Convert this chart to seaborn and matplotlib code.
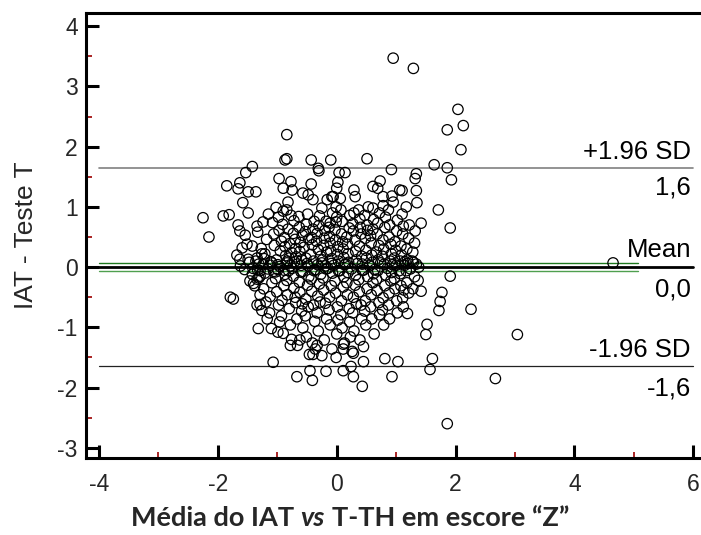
import numpy as np
import pandas as pd
import matplotlib
matplotlib.use("Agg")
import matplotlib.pyplot as plt
from matplotlib.ticker import FixedLocator
import seaborn as sns

# ---------------- data (mean of the two z-scores, difference) ----------------
outliers = [(0.95, 3.47), (1.29, 3.30), (2.04, 2.62), (2.13, 2.35), (1.86, 2.28), (2.09, 1.95),
            (1.64, 1.70), (1.86, 1.65), (1.93, 1.45), (1.71, 0.95), (1.91, 0.65), (4.65, 0.07),
            (2.26, -0.70), (3.04, -1.12), (2.67, -1.85), (1.86, -2.60), (-0.84, 2.20),
            (-2.25, 0.82), (-2.15, 0.50), (-1.91, 0.85), (-1.81, 0.87)]

upper_sparse = [(-0.87, 1.78), (-0.84, 1.80), (-0.43, 1.78), (-0.10, 1.78), (-0.30, 1.60), (0.51, 1.80),
                (0.92, 1.62), (0.04, 1.57), (0.14, 1.57), (-1.42, 1.67), (-1.53, 1.57), (-1.85, 1.35),
                (-1.63, 1.40), (-1.66, 1.30), (-1.49, 1.25), (-1.36, 1.25), (-1.58, 1.07), (-1.49, 0.90),
                (1.34, 1.55), (1.32, 1.47), (1.34, 1.27), (1.35, 1.07), (1.42, 0.73), (1.10, 1.27),
                (-0.97, 1.47), (-0.77, 1.42), (-0.90, 1.31), (-0.75, 1.28), (-0.82, 1.08), (-0.84, 0.95),
                (-0.43, 1.38), (-0.57, 1.23), (-0.48, 1.20), (-0.40, 1.12), (-0.25, 0.98), (-0.31, 1.64),
                (-0.16, 1.12), (-0.08, 1.17), (-0.11, 0.73), (0.02, 1.41), (0.00, 1.31), (-0.06, 1.17),
                (0.06, 1.14), (0.29, 1.28), (0.31, 1.17), (0.73, 1.43), (0.61, 1.34), (0.69, 1.31),
                (0.78, 1.17), (0.93, 1.18), (1.06, 1.28), (0.95, 1.08), (0.53, 1.00), (0.61, 0.98),
                (0.78, 1.02), (-0.01, 0.75)]

left_pos = [(-1.66, 0.70), (-1.63, 0.60), (-1.54, 0.53), (-1.34, 0.68), (-1.24, 0.75), (-1.59, 0.32),
            (-1.51, 0.38), (-1.42, 0.35), (-1.68, 0.20), (-1.63, 0.13), (-1.49, 0.13), (-1.34, 0.15),
            (-1.26, 0.22)]

core_pos = [(-1.31, 0.05), (-1.27, 0.31), (-1.33, 0.58), (-1.22, 0.14), (-1.18, 0.46), (-1.15, 0.88),
            (-1.21, 0.22), (-1.12, 0.03), (-1.08, 0.74), (-1.05, 0.36), (-1.11, 0.09), (-1.02, 0.99),
            (-1.06, 0.55), (-0.98, 0.83), (-0.97, 0.61), (-0.95, 0.27), (-1.01, 0.12), (-0.93, 0.43),
            (-0.99, 0.04), (-0.91, 0.71), (-0.88, 0.49), (-0.86, 0.19), (-0.90, 0.93), (-0.87, 0.34),
            (-0.84, 0.07), (-0.82, 0.63), (-0.79, 0.39), (-0.80, 0.15), (-0.77, 0.86), (-0.76, 0.24),
            (-0.78, 0.02), (-0.72, 0.77), (-0.70, 0.46), (-0.73, 0.56), (-0.68, 0.17), (-0.69, 0.31),
            (-0.71, 0.09), (-0.63, 0.66), (-0.61, 0.41), (-0.64, 0.84), (-0.59, 0.12), (-0.62, 0.26),
            (-0.58, 0.53), (-0.60, 0.03), (-0.53, 0.59), (-0.51, 0.71), (-0.55, 0.33), (-0.49, 0.88),
            (-0.52, 0.15), (-0.47, 0.46), (-0.50, 0.06), (-0.42, 0.49), (-0.40, 0.63), (-0.44, 0.21),
            (-0.38, 0.76), (-0.41, 0.37), (-0.39, 0.10), (-0.33, 0.56), (-0.31, 0.29), (-0.29, 0.85),
            (-0.34, 0.43), (-0.27, 0.18), (-0.30, 0.69), (-0.32, 0.04), (-0.22, 0.36), (-0.20, 0.61),
            (-0.24, 0.12), (-0.18, 0.76), (-0.21, 0.48), (-0.17, 0.25), (-0.19, 0.02), (-0.12, 0.51),
            (-0.10, 0.27), (-0.13, 0.66), (-0.08, 0.14), (-0.11, 0.40), (-0.07, 0.90), (-0.09, 0.06),
            (-0.02, 0.45), (0.01, 0.21), (-0.03, 0.62), (0.02, 0.34), (0.00, 0.83), (0.03, 0.10),
            (-0.01, 1.00), (0.08, 0.55), (0.11, 0.30), (0.09, 0.76), (0.12, 0.16), (0.07, 0.95),
            (0.10, 0.42), (0.13, 0.04), (0.18, 0.38), (0.21, 0.65), (0.19, 0.22), (0.22, 0.86),
            (0.17, 0.50), (0.20, 0.08), (0.28, 0.60), (0.31, 0.45), (0.29, 0.90), (0.32, 0.26),
            (0.27, 0.72), (0.33, 0.12), (0.38, 0.35), (0.41, 0.55), (0.39, 0.80), (0.42, 0.18),
            (0.37, 0.95), (0.40, 0.66), (0.43, 0.05), (0.48, 0.48), (0.51, 0.70), (0.49, 0.28),
            (0.52, 0.61), (0.47, 0.86), (0.50, 0.15), (0.58, 0.40), (0.61, 0.63), (0.59, 0.20),
            (0.62, 0.79), (0.57, 0.52), (0.60, 0.08), (0.68, 0.55), (0.71, 0.36), (0.69, 0.73),
            (0.72, 0.90), (0.67, 0.25), (0.70, 0.12), (0.78, 0.45), (0.81, 0.66), (0.79, 0.30),
            (0.82, 0.83), (0.77, 0.18), (0.80, 0.05), (0.88, 0.50), (0.91, 0.38), (0.89, 0.70),
            (0.92, 0.22), (0.87, 0.95), (0.90, 0.10), (0.98, 0.42), (1.01, 0.60), (0.99, 0.28),
            (1.02, 0.78), (0.97, 0.15), (1.00, 0.03), (1.08, 0.35), (1.11, 0.55), (1.09, 0.20),
            (1.12, 0.68), (1.07, 0.10), (1.10, 0.88), (1.18, 0.30), (1.21, 0.48), (1.19, 0.12),
            (1.22, 0.70), (1.17, 1.00), (1.28, 0.25), (1.31, 0.40), (1.29, 0.08), (1.32, 0.60)]

zero_band = [(-1.62, 0.02), (-1.55, -0.04), (-1.47, 0.08), (-1.41, -0.02), (-1.36, 0.10), (-1.29, -0.06),
             (-1.24, 0.04), (-1.16, -0.03), (-1.09, 0.07), (-1.03, -0.08), (-0.96, 0.01), (-0.89, -0.05),
             (-0.83, 0.10), (-0.75, -0.02), (-0.66, 0.05), (-0.57, -0.07), (-0.48, 0.02), (-0.36, -0.04),
             (-0.25, 0.07), (-0.15, -0.02), (-0.05, 0.03), (0.05, -0.06), (0.15, 0.05), (0.25, -0.03),
             (0.35, 0.06), (0.45, -0.05), (0.55, 0.02), (0.64, -0.04), (0.74, 0.07), (0.85, -0.02),
             (0.94, 0.04), (1.05, -0.06), (1.14, 0.03), (1.24, -0.03), (1.34, 0.05), (1.27, 0.10),
             (1.20, 0.06), (1.15, 0.09), (1.38, 0.00)]

core_neg = [(-1.42, -0.12), (-1.38, -0.31), (-1.33, -0.05), (-1.29, -0.46), (-1.31, -0.18), (-1.26, -0.72),
            (-1.23, -0.36), (-1.19, -0.58), (-1.21, -0.10), (-1.17, -0.86), (-1.12, -0.49), (-1.09, -0.26),
            (-1.13, -0.76), (-1.06, -0.07), (-1.10, -1.02), (-1.01, -0.41), (-0.98, -0.63), (-1.03, -0.19),
            (-0.96, -0.91), (-0.99, -0.04), (-0.92, -0.55), (-0.89, -0.31), (-0.93, -0.81), (-0.87, -0.12),
            (-0.90, -1.10), (-0.83, -0.46), (-0.80, -0.69), (-0.84, -0.22), (-0.78, -0.96), (-0.81, -0.06),
            (-0.76, -1.20), (-0.72, -0.35), (-0.69, -0.59), (-0.73, -0.15), (-0.67, -0.86), (-0.70, -0.50),
            (-0.66, -1.30), (-0.62, -0.42), (-0.59, -0.73), (-0.63, -0.25), (-0.57, -1.01), (-0.60, -0.08),
            (-0.58, -0.61), (-0.52, -0.53), (-0.49, -0.30), (-0.53, -0.81), (-0.47, -0.16), (-0.51, -1.16),
            (-0.48, -0.66), (-0.46, -1.45), (-0.42, -0.40), (-0.39, -0.63), (-0.43, -0.20), (-0.37, -0.90),
            (-0.41, -1.26), (-0.38, -0.06), (-0.36, -1.36), (-0.32, -0.48), (-0.29, -0.28), (-0.33, -0.76),
            (-0.27, -0.12), (-0.31, -1.06), (-0.28, -0.58), (-0.22, -0.38), (-0.19, -0.60), (-0.23, -0.18),
            (-0.17, -0.86), (-0.21, -1.21), (-0.18, -0.03), (-0.12, -0.50), (-0.09, -0.31), (-0.13, -0.71),
            (-0.07, -0.10), (-0.11, -0.96), (-0.08, -1.36), (-0.02, -0.43), (0.01, -0.66), (-0.03, -0.23),
            (0.02, -0.88), (0.00, -1.11), (0.03, -0.06), (-0.01, -1.50), (0.08, -0.56), (0.11, -0.33),
            (0.07, -0.79), (0.12, -0.16), (0.09, -1.01), (0.13, -1.26), (0.18, -0.46), (0.21, -0.69),
            (0.17, -0.26), (0.22, -0.91), (0.19, -0.09), (0.23, -1.16), (0.28, -0.50), (0.31, -0.30),
            (0.27, -0.76), (0.32, -0.13), (0.29, -1.06), (0.33, -0.61), (0.38, -0.41), (0.41, -0.63),
            (0.37, -0.21), (0.42, -0.86), (0.39, -1.21), (0.43, -0.05), (0.48, -0.56), (0.51, -0.36),
            (0.47, -0.73), (0.52, -0.16), (0.49, -0.96), (0.58, -0.46), (0.61, -0.26), (0.57, -0.66),
            (0.62, -0.11), (0.59, -0.86), (0.63, -1.11), (0.68, -0.39), (0.71, -0.59), (0.67, -0.20),
            (0.72, -0.79), (0.69, -0.06), (0.78, -0.51), (0.81, -0.31), (0.77, -0.71), (0.82, -0.13),
            (0.79, -0.96), (0.88, -0.43), (0.91, -0.23), (0.87, -0.63), (0.92, -0.09), (0.89, -0.86),
            (0.98, -0.36), (1.01, -0.56), (0.97, -0.19), (1.02, -0.76), (1.08, -0.31), (1.11, -0.51),
            (1.07, -0.11), (1.12, -0.66), (1.18, -0.26), (1.21, -0.43), (1.17, -0.06), (1.28, -0.36),
            (1.31, -0.16)]

lower_sparse = [(-1.46, -0.23), (-1.40, -0.27), (-1.34, -0.20), (-1.29, -0.15), (-1.79, -0.50),
                (-1.74, -0.53), (-1.34, -0.63), (-1.29, -0.62), (-1.32, -1.02), (-1.07, -1.58),
                (-0.67, -1.82), (-0.45, -1.72), (-0.41, -1.88), (-0.18, -1.73), (0.11, -1.72),
                (0.24, -1.65), (0.28, -1.82), (0.43, -1.98), (0.81, -1.52), (0.93, -1.82),
                (1.03, -1.57), (0.45, -1.57), (0.11, -1.28), (0.28, -1.43), (0.45, -1.32),
                (1.61, -1.52), (1.57, -1.70), (1.52, -0.95), (1.50, -1.12), (1.19, -0.77),
                (1.77, -0.42), (1.74, -0.57), (1.72, -0.72), (1.91, -0.15), (1.42, -0.40),
                (1.37, -0.22), (1.13, -0.38), (-0.33, -1.30), (-0.40, -1.45), (-0.25, -1.47),
                (-0.78, -1.30), (-0.62, -1.21), (-0.99, -1.08), (0.11, -1.36), (0.26, -1.40)]

# summary statistics of the Bland-Altman plot
mean_diff = 0.0
mean_ci = (-0.07, 0.07)
upper_loa = 1.64
lower_loa = -1.64
x_ticks = [-4, -2, 0, 2, 4, 6]
y_ticks = [-3, -2, -1, 0, 1, 2, 3, 4]

all_pts = outliers + upper_sparse + left_pos + core_pos + zero_band + core_neg + lower_sparse
df = pd.DataFrame(all_pts, columns=["media", "diferenca"])

# ---------------- figure ----------------
sns.set_style("white")
plt.rcParams["font.family"] = ["Liberation Sans", "DejaVu Sans"]

W, H = 701, 535
fig = plt.figure(figsize=(W / 100, H / 100), dpi=100)
ax = fig.add_axes([86 / W, (H - 458) / H, (W - 86) / W, (458 - 13) / H])

sns.scatterplot(data=df, x="media", y="diferenca", ax=ax, marker="o", s=56,
                color="black", facecolor="none", edgecolor="black", linewidth=0.9,
                zorder=3)

x0, x1 = -4, 6
ax.plot([x0, x1], [upper_loa, upper_loa], color="#808080", lw=1.2, zorder=2)
ax.plot([x0, x1], [lower_loa, lower_loa], color="#222222", lw=0.9, zorder=2)
ax.plot([x0, 5.07], [mean_ci[1], mean_ci[1]], color="#1f7a1f", lw=1.0, zorder=2)
ax.plot([x0, 5.07], [mean_ci[0], mean_ci[0]], color="#4f9f4f", lw=1.0, zorder=2)
ax.plot([x0, x1], [mean_diff, mean_diff], color="black", lw=2.0, zorder=2)

lab_fs = 18.5
def line_label(y, s, dy):
    ax.annotate(s, xy=(5.96, y), xytext=(0, dy), textcoords="offset points",
                ha="right", va="baseline", fontsize=lab_fs, color="black")

line_label(upper_loa, "+1.96 SD", 6.5)
line_label(upper_loa, "1,6", -18.5)
line_label(mean_diff, "Mean", 7.0)
line_label(mean_diff, "0,0", -21.0)
line_label(lower_loa, "-1.96 SD", 6.2)
line_label(lower_loa, "-1,6", -21.0)

ax.set_xlim(-4.219, 6.13)
ax.set_ylim(-3.17, 4.22)

ax.xaxis.set_major_locator(FixedLocator(x_ticks))
ax.yaxis.set_major_locator(FixedLocator(y_ticks))
ax.xaxis.set_minor_locator(FixedLocator([-3, -1, 1, 3, 5]))
ax.yaxis.set_minor_locator(FixedLocator([-2.5, -1.5, -0.5, 0.5, 1.5, 2.5, 3.5]))
ax.set_xticklabels([str(t) for t in x_ticks])
ax.set_yticklabels([str(t) for t in y_ticks])

ax.tick_params(axis="both", which="major", direction="in", length=9.4, width=2.2,
               color="black", labelsize=16.5, bottom=True, left=True, top=False, right=False)
ax.tick_params(axis="both", which="minor", direction="in", length=4.3, width=1.2,
               color="#9b0000", bottom=True, left=True, top=False, right=False)
ax.tick_params(axis="x", which="major", pad=10.5)
ax.tick_params(axis="y", which="major", pad=6.0)

for side in ["left", "top", "bottom"]:
    ax.spines[side].set_linewidth(2.2)
    ax.spines[side].set_color("black")
ax.spines["right"].set_visible(False)

ax.set_xlabel("")
ax.set_ylabel("IAT - Teste T", fontsize=19)
ax.yaxis.set_label_coords(-0.078, 0.5)

# x label with italic "vs" built from pieces
fig.canvas.draw()
renderer = fig.canvas.get_renderer()
xfs = 19.5
xfam = ["Lato", "DejaVu Sans"]
pieces = [("Média do IAT", "normal"), ("vs", "italic"), ("T-TH em escore “Z”", "normal")]
probe1 = fig.text(0, 0, "M M", fontsize=xfs, fontweight="bold", family=xfam)
probe2 = fig.text(0, 0, "MM", fontsize=xfs, fontweight="bold", family=xfam)
space_w = probe1.get_window_extent(renderer).width - probe2.get_window_extent(renderer).width
probe1.remove(); probe2.remove()
tobjs = []
for s, st in pieces:
    t = fig.text(0, 0, s, fontsize=xfs, fontweight="bold", style=st, family=xfam,
                 va="baseline", ha="left")
    tobjs.append(t)
widths = [t.get_window_extent(renderer).width for t in tobjs]
total = sum(widths) + space_w * (len(widths) - 1)
cx = 350
start = cx - total / 2
base_y = H - 526
xpos = start
for t, w in zip(tobjs, widths):
    t.set_position((xpos / W, base_y / H))
    xpos += w + space_w

fig.savefig("out.png", dpi=100)
